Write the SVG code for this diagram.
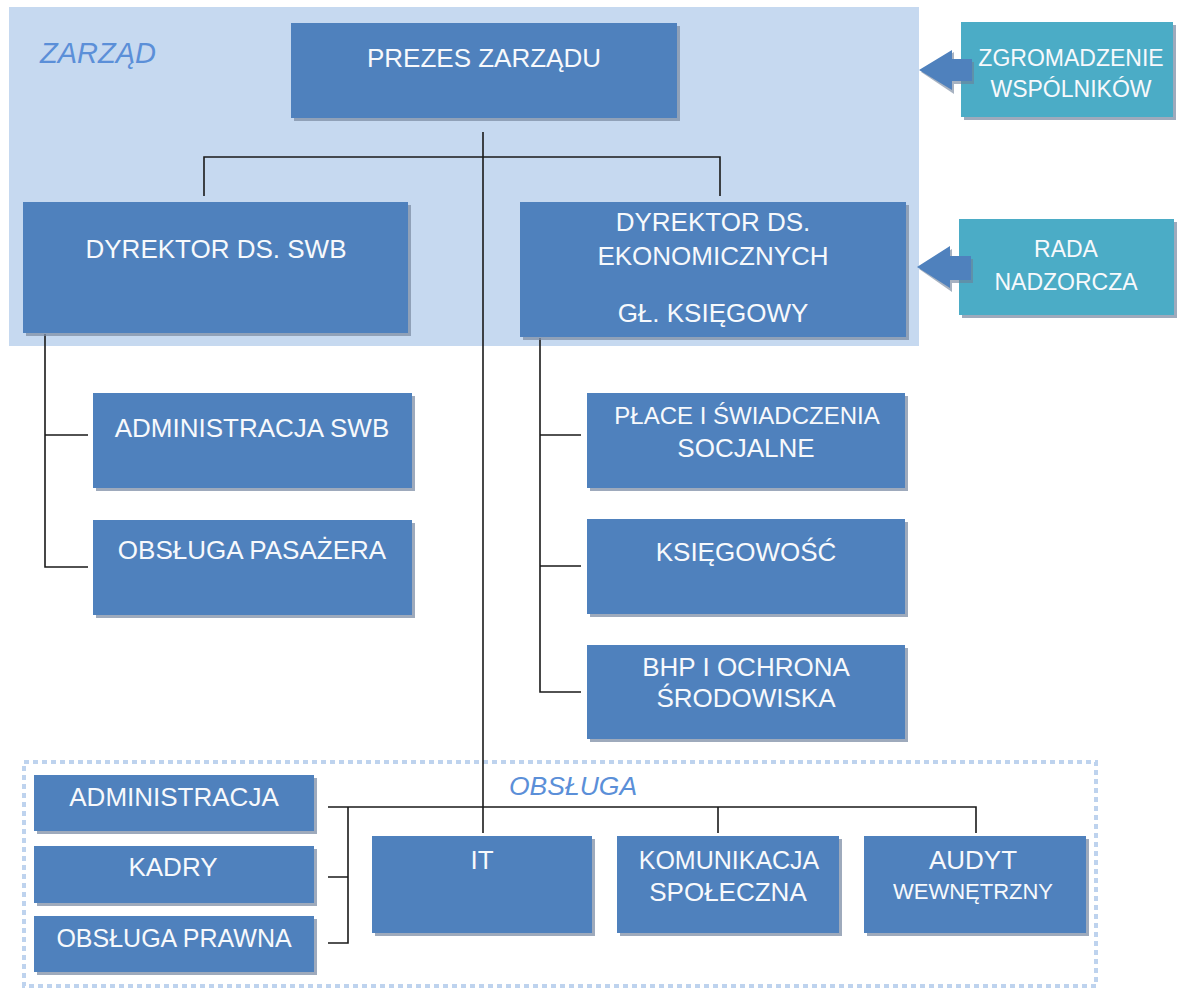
<svg xmlns="http://www.w3.org/2000/svg" width="1177" height="990" viewBox="0 0 1177 990">
<style>
.box{fill:#4f81bd}
.sh{fill:#7d8ea6;opacity:0.75}
.tbox{fill:#4bacc6}
.t{font-family:"Liberation Sans",Arial,sans-serif;font-size:26px;fill:#f7f9fc;text-anchor:middle}
.tt{font-family:"Liberation Sans",Arial,sans-serif;font-size:23px;fill:#f7f9fc;text-anchor:middle}
.lab{font-family:"Liberation Sans",Arial,sans-serif;font-size:26.5px;font-style:italic;fill:#5b8fd8}
.ln{fill:none;stroke:#1a1a1a;stroke-width:1.6}
.arr{fill:#4f81bd}
</style>
<rect x="0" y="0" width="1177" height="990" fill="#ffffff"/>
<g id="zarzad-area">
<rect x="9" y="7" width="910" height="339" fill="#c6d9f0"/>
<text class="lab" x="40" y="63" style="font-size:29px">ZARZĄD</text>
</g>
<g id="obsluga-area">
<rect x="24" y="762" width="1072" height="224" fill="none" stroke="#bed3ee" stroke-width="4" stroke-dasharray="5 4"/>
<text class="lab" x="509" y="795">OBSŁUGA</text>
</g>
<g id="connectors">
<path class="ln" d="M483 132 V833"/>
<path class="ln" d="M204 196 V157 H720 V196"/>
<path class="ln" d="M45 334 V567 H88 M45 435 H88"/>
<path class="ln" d="M540 338 V692 H581 M540 435 H581 M540 566 H581"/>
<path class="ln" d="M328 807 H976 V833 M718 807 V833"/>
<path class="ln" d="M348 807 V943 H328 M348 877 H328"/>
</g>
<g id="prezes"><rect class="sh" x="294" y="26" width="386" height="95"/><rect class="box" x="291" y="23" width="386" height="95"/><text class="t" x="484" y="67">PREZES ZARZĄDU</text></g>
<g id="dyr-swb"><rect class="sh" x="26" y="205" width="385" height="131"/><rect class="box" x="23" y="202" width="385" height="131"/><text class="t" x="216" y="258">DYREKTOR DS. SWB</text></g>
<g id="dyr-eko"><rect class="sh" x="523" y="205" width="386" height="135"/><rect class="box" x="520" y="202" width="386" height="135"/><text class="t" x="713" y="231">DYREKTOR DS.</text><text class="t" x="713" y="265">EKONOMICZNYCH</text><text class="t" x="713" y="322">GŁ. KSIĘGOWY</text></g>
<g id="zgromadzenie"><rect class="sh" x="964" y="25" width="212" height="95"/><rect class="tbox" x="961" y="22" width="212" height="95"/><text class="tt" x="1071" y="66">ZGROMADZENIE</text><text class="tt" x="1071" y="97">WSPÓLNIKÓW</text></g>
<g id="arrow-zgrom"><path d="M921 72 L954 52 V62 H974 V84 H954 V94 Z" fill="#6d7f98" opacity="0.6"/><path class="arr" d="M919 70 L952 50 V59 H972 V81 H952 V90 Z"/></g>
<g id="rada"><rect class="sh" x="962" y="222" width="215" height="96"/><rect class="tbox" x="959" y="219" width="215" height="96"/><text class="tt" x="1066" y="257">RADA</text><text class="tt" x="1066" y="290">NADZORCZA</text></g>
<g id="arrow-rada"><path d="M919 269 L952 249 V259 H973 V283 H952 V292 Z" fill="#6d7f98" opacity="0.6"/><path class="arr" d="M917 267 L950 246 V256 H971 V280 H950 V288 Z"/></g>
<g id="adm-swb"><rect class="sh" x="96" y="396" width="319" height="95"/><rect class="box" x="93" y="393" width="319" height="95"/><text class="t" x="252" y="437">ADMINISTRACJA SWB</text></g>
<g id="obs-pas"><rect class="sh" x="96" y="523" width="319" height="95"/><rect class="box" x="93" y="520" width="319" height="95"/><text class="t" x="252" y="559">OBSŁUGA PASAŻERA</text></g>
<g id="place"><rect class="sh" x="590" y="396" width="318" height="95"/><rect class="box" x="587" y="393" width="318" height="95"/><text class="t" x="747" y="424" style="font-size:24px">PŁACE I ŚWIADCZENIA</text><text class="t" x="746" y="457">SOCJALNE</text></g>
<g id="ksiegowosc"><rect class="sh" x="590" y="522" width="318" height="95"/><rect class="box" x="587" y="519" width="318" height="95"/><text class="t" x="746" y="561">KSIĘGOWOŚĆ</text></g>
<g id="bhp"><rect class="sh" x="590" y="648" width="318" height="94"/><rect class="box" x="587" y="645" width="318" height="94"/><text class="t" x="746" y="676">BHP I OCHRONA</text><text class="t" x="746" y="707">ŚRODOWISKA</text></g>
<g id="administracja"><rect class="sh" x="37" y="778" width="280" height="56"/><rect class="box" x="34" y="775" width="280" height="56"/><text class="t" x="174" y="806">ADMINISTRACJA</text></g>
<g id="kadry"><rect class="sh" x="37" y="849" width="280" height="57"/><rect class="box" x="34" y="846" width="280" height="57"/><text class="t" x="173" y="876">KADRY</text></g>
<g id="obs-prawna"><rect class="sh" x="37" y="919" width="280" height="56"/><rect class="box" x="34" y="916" width="280" height="56"/><text class="t" x="174" y="947" style="font-size:25px">OBSŁUGA PRAWNA</text></g>
<g id="it"><rect class="sh" x="375" y="839" width="220" height="97"/><rect class="box" x="372" y="836" width="220" height="97"/><text class="t" x="482" y="869">IT</text></g>
<g id="komunikacja"><rect class="sh" x="620" y="839" width="222" height="97"/><rect class="box" x="617" y="836" width="222" height="97"/><text class="t" x="729" y="869" style="font-size:25px">KOMUNIKACJA</text><text class="t" x="728" y="901">SPOŁECZNA</text></g>
<g id="audyt"><rect class="sh" x="867" y="839" width="222" height="97"/><rect class="box" x="864" y="836" width="222" height="97"/><text class="t" x="973" y="869">AUDYT</text><text class="t" x="973" y="899" style="font-size:22px">WEWNĘTRZNY</text></g>
</svg>
